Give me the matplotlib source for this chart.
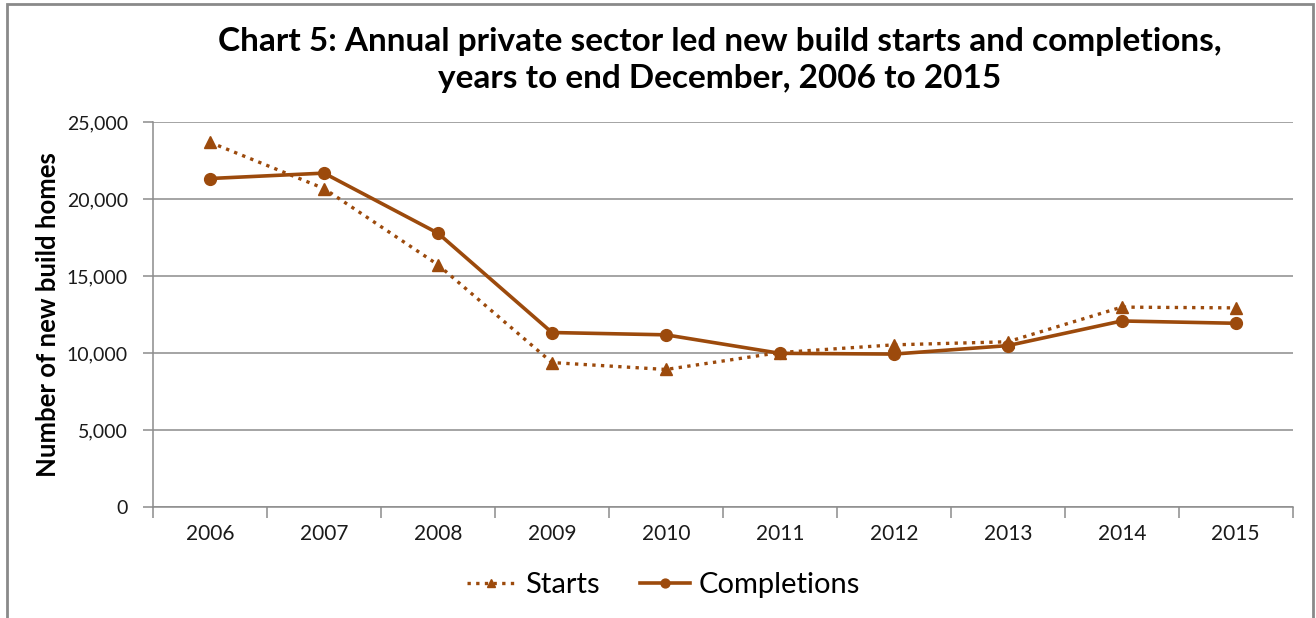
import matplotlib
matplotlib.use('Agg')
import matplotlib.pyplot as plt
from matplotlib.ticker import FuncFormatter, FixedLocator
import numpy as np

plt.rcParams['font.family'] = ['Lato', 'DejaVu Sans']

years = ['2006', '2007', '2008', '2009', '2010', '2011', '2012', '2013', '2014', '2015']
starts = [23700, 20700, 15750, 9400, 8950, 10050, 10550, 10750, 13000, 12950]
completions = [21350, 21700, 17800, 11350, 11200, 10000, 9950, 10500, 12100, 11950]

brown = '#9c4a0c'
grey = '#8c8c8c'

fig = plt.figure(figsize=(13.16, 6.18), dpi=100)
ax = fig.add_axes([0.1163, 0.1791, 0.8660, 0.6230])

x = np.arange(len(years))
ax.plot(x, starts, color=brown, lw=2.4, ls=(0, (1, 1.6)), marker='^', ms=8,
        label='Starts')
ax.plot(x, completions, color=brown, lw=2.6, ls='-', marker='o', ms=8.5,
        label='Completions')

ax.set_xlim(-0.5, len(years) - 0.5)
ax.set_ylim(0, 25000)
ax.set_yticks(np.arange(0, 25001, 5000))
ax.yaxis.set_major_formatter(FuncFormatter(lambda v, p: f'{int(v):,}'))
ax.grid(axis='y', color=grey, lw=1.1)
ax.set_axisbelow(True)

# category labels centred, tick marks on the boundaries
ax.set_xticks(x)
ax.set_xticklabels(years)
ax.tick_params(axis='x', which='major', length=0, pad=12, labelsize=15, colors='#1a1a1a')
ax.xaxis.set_minor_locator(FixedLocator(np.arange(-0.5, len(years), 1.0)))
ax.tick_params(axis='x', which='minor', length=8, color=grey, width=1.1)
ax.tick_params(axis='y', length=7, color=grey, width=1.1, labelsize=14, pad=11,
               labelcolor='#1a1a1a')

for s in ['top', 'right']:
    ax.spines[s].set_visible(False)
for s in ['left', 'bottom']:
    ax.spines[s].set_color(grey)
    ax.spines[s].set_linewidth(1.1)

ax.set_ylabel('Number of new build homes', fontsize=18.5, fontweight='bold')
ax.yaxis.set_label_coords(-0.0816, 0.5)

fig.text(0.547, 0.903,
         'Chart 5: Annual private sector led new build starts and completions,\n'
         'years to end December, 2006 to 2015',
         ha='center', va='center', fontsize=24, fontweight='bold',
         linespacing=1.3)

fig.legend(loc='center', bbox_to_anchor=(0.504, 0.053), ncol=2, frameon=False,
           fontsize=21, handlelength=1.7, columnspacing=1.4, handletextpad=0.3,
           markerscale=0.75)

# outer frame
frame = plt.Rectangle((0.0055, -0.05), 0.992, 1.043, transform=fig.transFigure,
                      fill=False, edgecolor='#8a8a8a', lw=2)
fig.add_artist(frame)

fig.savefig('out.png', dpi=100, facecolor='white')
